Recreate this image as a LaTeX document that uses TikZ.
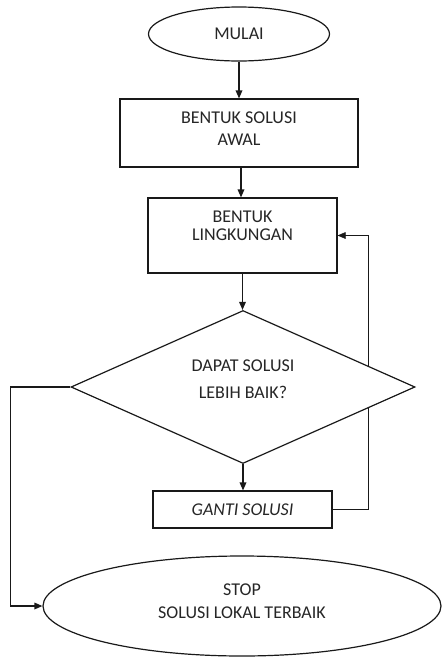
\documentclass[tikz,border=0pt]{standalone}
\usepackage{fontspec}
\setmainfont{Carlito}
\usetikzlibrary{shapes.geometric,arrows.meta,backgrounds}
\begin{document}
\begin{tikzpicture}[x=0.75pt,y=-0.75pt,
  line width=0.9pt, draw=black!90,
  shp/.style={draw=black!90, fill=white, inner sep=0pt},
  txt/.style={align=center, font=\fontsize{13.5}{16.5}\selectfont, text=black!85, inner sep=0pt},
  arr/.style={draw=black!90, -{Triangle[length=6pt,width=5pt]}}]
\useasboundingbox (0,0) rectangle (442,657);
% shapes
\node[shp, ellipse, minimum width=135.75pt, minimum height=40.5pt, txt] (mulai) at (239,34) {MULAI};
\node[shp, rectangle, minimum width=178.5pt, minimum height=51pt] (awal) at (239,133) {};
\node[shp, rectangle, minimum width=141.75pt, minimum height=56.25pt] (ling) at (242.5,235.5) {};
\node[shp, diamond, minimum width=258pt, minimum height=114.75pt] (cek) at (243,387) {};
\node[shp, rectangle, minimum width=134.25pt, minimum height=27.75pt, txt, font=\fontsize{13.5}{16.5}\selectfont\itshape] (ganti) at (242.5,509.5) {GANTI SOLUSI};
\node[shp, ellipse, minimum width=298.5pt, minimum height=75pt] (stop) at (242,606) {};
% texts
\node[txt] (tawal) at (239,129) {BENTUK SOLUSI\\AWAL};
\node[txt] (tling) at (242.5,226) {BENTUK\\[-2.8pt]LINGKUNGAN};
\node[txt] (tcek) at (243,379) {DAPAT SOLUSI\\[3.5pt]LEBIH BAIK?};
\node[txt] (tstop) at (242,601) {STOP\\[0.5pt]SOLUSI LOKAL TERBAIK};
% connectors
\draw[arr] (mulai.south) -- (mulai.south |- awal.north);
\draw[arr] ([xshift=1.5pt]awal.south) -- ([xshift=1.5pt]awal.south |- ling.north);
\draw[arr] (ling.south) -- (ling.south |- cek.north);
\draw[arr] (cek.south) -- (cek.south |- ganti.north);
\begin{scope}[on background layer]
\draw[arr] (ganti.east) -- ++(36,0) coordinate (fb) |- (ling.east);
\end{scope}
\draw[arr] (cek.west) -- ++(-60,0) coordinate (lf) |- (stop.west);
\end{tikzpicture}
\end{document}
